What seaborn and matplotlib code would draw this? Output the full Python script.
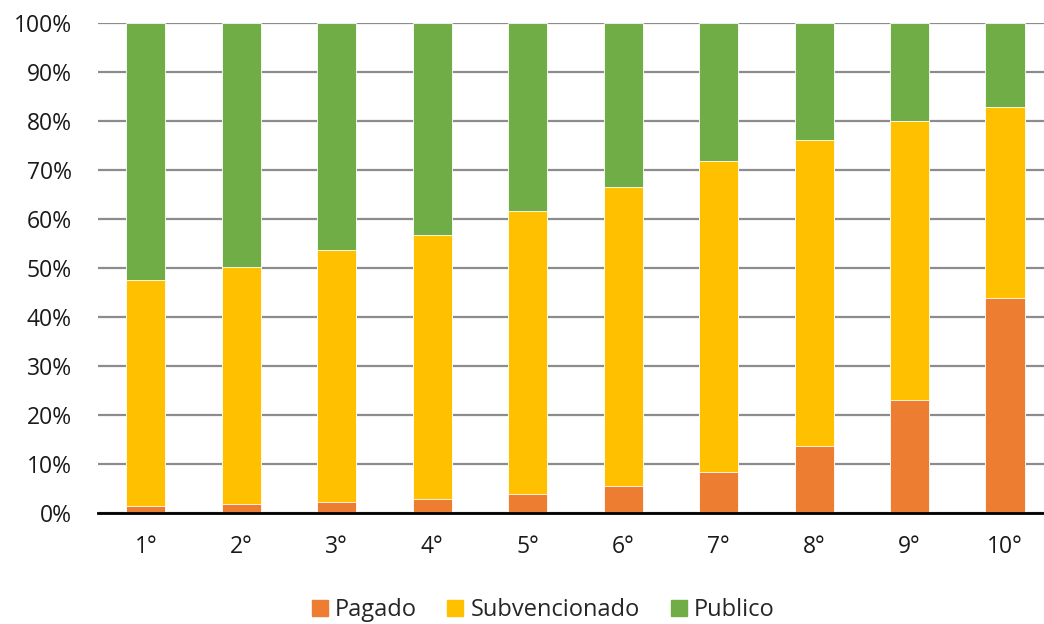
import matplotlib
matplotlib.use("Agg")
import matplotlib.pyplot as plt
import matplotlib.patches as mpatches
import seaborn as sns
import pandas as pd
import numpy as np

# Share of students by school type, per decile
deciles = ["1°", "2°", "3°", "4°", "5°", "6°", "7°", "8°", "9°", "10°"]
pagado = [1.5, 1.9, 2.3, 2.9, 3.9, 5.5, 8.4, 13.7, 23.1, 43.9]
subvencionado = [46.0, 48.3, 51.3, 53.8, 57.7, 61.0, 63.4, 62.4, 56.8, 38.9]
publico = [52.5, 49.8, 46.4, 43.3, 38.4, 33.5, 28.2, 23.9, 20.1, 17.2]

series_names = ["Pagado", "Subvencionado", "Publico"]
colors = {"Pagado": "#ED7D31", "Subvencionado": "#FFC000", "Publico": "#70AD47"}

df = pd.DataFrame({"decil": deciles, "Pagado": pagado,
                   "Subvencionado": subvencionado, "Publico": publico})
df["cum_pagado"] = df["Pagado"]
df["cum_subv"] = df["Pagado"] + df["Subvencionado"]
df["cum_pub"] = df["cum_subv"] + df["Publico"]

sns.set_theme(style="white")
plt.rcParams["font.family"] = ["Open Sans", "DejaVu Sans"]

fig = plt.figure(figsize=(10.44, 6.24), dpi=100)
ax = fig.add_axes([98 / 1044, 111 / 624, (1044 - 98) / 1044, 490 / 624])

# Stacked bars drawn back to front from cumulative totals
for col, name in [("cum_pub", "Publico"), ("cum_subv", "Subvencionado"), ("cum_pagado", "Pagado")]:
    sns.barplot(data=df, x="decil", y=col, color=colors[name], width=0.41,
                saturation=1, ax=ax, edgecolor="white", linewidth=0.6, zorder=3)

ax.set_ylim(0, 100)
ax.set_xlim(-0.5, 9.408)
ax.set_yticks(np.arange(0, 101, 10))
ax.set_yticklabels([f"{v}%" for v in range(0, 101, 10)])
ax.set_xlabel("")
ax.set_ylabel("")
ax.yaxis.grid(True, color="#8c8c8c", linewidth=1.6, zorder=0)
ax.xaxis.grid(False)
ax.set_axisbelow(True)
for side in ["top", "right", "left"]:
    ax.spines[side].set_visible(False)
ax.spines["bottom"].set_color("black")
ax.spines["bottom"].set_linewidth(2)
ax.spines["bottom"].set_zorder(5)
ax.tick_params(axis="both", length=0, labelsize=16.5, colors="#1a1a1a")
ax.tick_params(axis="y", pad=19)
ax.tick_params(axis="x", pad=16)

handles = [mpatches.Patch(color=colors[n], label=n) for n in series_names]
fig.legend(handles=handles, loc="center", bbox_to_anchor=(543 / 1044, 14 / 624), ncol=3,
           frameon=False, fontsize=17, handlelength=0.68, handleheight=0.68,
           handletextpad=0.3, columnspacing=1.3)

fig.savefig("out.png", dpi=100)
